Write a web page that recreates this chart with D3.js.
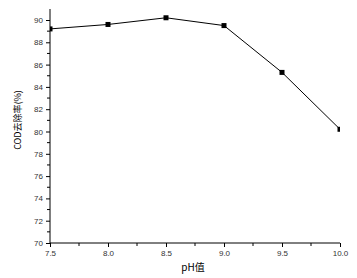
<!DOCTYPE html>
<html><head><meta charset="utf-8">
<script src="https://cdn.jsdelivr.net/npm/d3@7"></script>
<style>body{margin:0;background:#fff}svg{display:block}</style>
</head><body><svg id="c" width="357" height="278"></svg>
<script>
const phValues = [7.5, 8.0, 8.5, 9.0, 9.5, 10.0];
const codRemoval = [89.2, 89.6, 90.2, 89.5, 85.3, 80.2];
const xTicks = [7.5, 8.0, 8.5, 9.0, 9.5, 10.0];
const yTicks = [70, 72, 74, 76, 78, 80, 82, 84, 86, 88, 90];
const xLabel = "pH值";
const yLabel = "COD去除率(%)";

const svg = d3.select("#c");
const L = 50, R = 340, T = 9, B = 243;
const x = d3.scaleLinear().domain([7.5, 10.0]).range([L, R]);
const y = d3.scaleLinear().domain([70, 90]).range([B, 20]);

svg.append("defs").append("clipPath").attr("id","clip")
  .append("rect").attr("x", L).attr("y", 0).attr("width", R - L).attr("height", B);

const xAxis = d3.axisBottom(x).tickValues(xTicks).tickFormat(d3.format(".1f")).tickSize(4).tickPadding(3);
const gx = svg.append("g").attr("transform", `translate(0,${B})`).call(xAxis);
gx.select(".domain").attr("d", `M${L},0H${R}`);
// minor x ticks
gx.selectAll(".minor").data(d3.range(7.75, 10, 0.5)).enter().append("line")
  .attr("x1", d => x(d)).attr("x2", d => x(d)).attr("y1", 0).attr("y2", 3).attr("stroke", "#000");

const yAxis = d3.axisLeft(y).tickValues(yTicks).tickSize(4).tickPadding(3);
const gy = svg.append("g").attr("transform", `translate(${L},0)`).call(yAxis);
gy.select(".domain").attr("d", `M0,${T}V${B}`);
gy.selectAll(".minor").data(d3.range(71, 91, 2)).enter().append("line")
  .attr("x1", 0).attr("x2", -3).attr("y1", d => y(d)).attr("y2", d => y(d)).attr("stroke", "#000");

svg.selectAll(".tick text").attr("font-family", "Arial, 'Liberation Sans', sans-serif")
  .attr("font-size", 8).attr("fill", "#333");
svg.selectAll(".domain").attr("stroke", "#000");
svg.selectAll(".tick line").attr("stroke", "#000");

const pts = phValues.map((p, i) => [p, codRemoval[i]]);
const g = svg.append("g").attr("clip-path", "url(#clip)");
g.append("path").datum(pts)
  .attr("d", d3.line().x(d => x(d[0])).y(d => y(d[1])))
  .attr("fill", "none").attr("stroke", "#000").attr("stroke-width", 1);
g.selectAll("rect.m").data(pts).enter().append("rect").attr("class","m")
  .attr("x", d => x(d[0]) - 2.5).attr("y", d => y(d[1]) - 2.5)
  .attr("width", 5).attr("height", 5).attr("fill", "#000");

svg.append("text").attr("x", 193).attr("y", 271).attr("text-anchor", "middle")
  .attr("font-family", "'Noto Sans CJK SC', sans-serif").attr("font-size", 10).attr("fill", "#000")
  .text(xLabel);
svg.append("text").attr("transform", "translate(21,120) rotate(-90)").attr("text-anchor", "middle")
  .attr("font-family", "'Noto Sans CJK SC', sans-serif").attr("font-size", 9).attr("fill", "#000")
  .text(yLabel);
</script></body></html>
